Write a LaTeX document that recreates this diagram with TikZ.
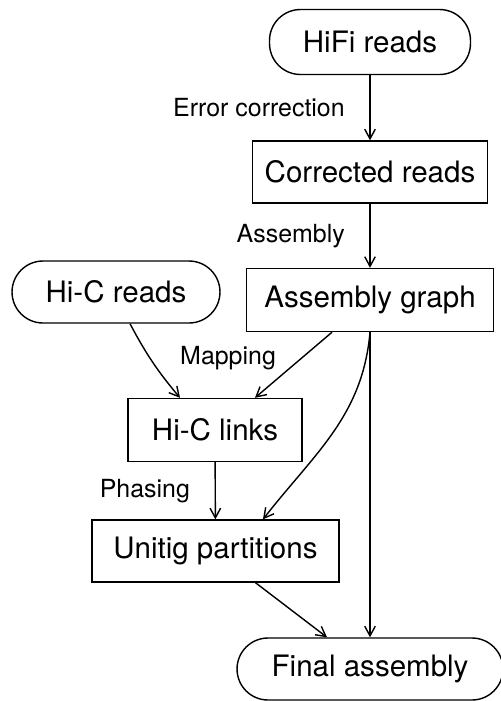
\documentclass[tikz,border=0pt]{standalone}
\usepackage{fontspec}
\setmainfont{TeX Gyre Heros}
\usetikzlibrary{arrows.meta,positioning}

\begin{document}
\begin{tikzpicture} [x=0.02cm, y=-0.02cm, line width=0.8pt, >={Straight Barb[length=5.5pt,width=6pt]}]
\tikzstyle{every node}=[font=\fontsize{16.8}{20}\selectfont];
\tikzstyle{box}=[draw, shape=rectangle, minimum height=1.24cm];
\tikzstyle{term}=[box, rounded corners=0.62cm];
\tikzstyle{lbl}=[font=\fontsize{14.2}{17}\selectfont, inner sep=0pt];
\useasboundingbox (0,0) rectangle (501,701);
\node [term, minimum width=4.02cm, minimum height=1.3cm] (hifi) at (370,42) {HiFi reads};
\node [box, minimum width=4.7cm] (corr) at (370,172) {Corrected reads};
\node [box, minimum width=4.94cm, minimum height=1.26cm] (graph) at (370,300) {Assembly graph};
\node [term, minimum width=4.16cm] (hic) at (116,292) {Hi-C reads};
\node [box, minimum width=3.48cm, minimum height=1.26cm] (links) at (215,430) {Hi-C links};
\node [box, minimum width=4.94cm] (parts) at (215.5,551) {Unitig partitions};
\node [term, minimum width=5.32cm] (final) at (370,669) {Final assembly};
\draw [->] (hifi) -- node [lbl, left=14pt] {Error correction} (corr);
\draw [->] (corr) -- node [lbl, left=14pt] {Assembly} (graph);
\draw [->] ([xshift=0.28cm]hic.south) to [bend right=6] ([xshift=-0.7cm]links.north);
\draw [->] ([xshift=-0.76cm]graph.south) -- node [lbl, left=14pt, pos=0.4] {Mapping} ([xshift=0.8cm]links.north);
\draw [->] (graph.south) to [out=-95, in=52] ([xshift=0.95cm]parts.north); % curved
\draw [->] (graph.south) -- (final.north);
\draw [->] (links) -- node [lbl, left=14pt] {Phasing} (parts);
\draw [->] ([xshift=0.8cm]parts.south) -- ([xshift=-0.86cm]final.north);
\end{tikzpicture}
\end{document}
